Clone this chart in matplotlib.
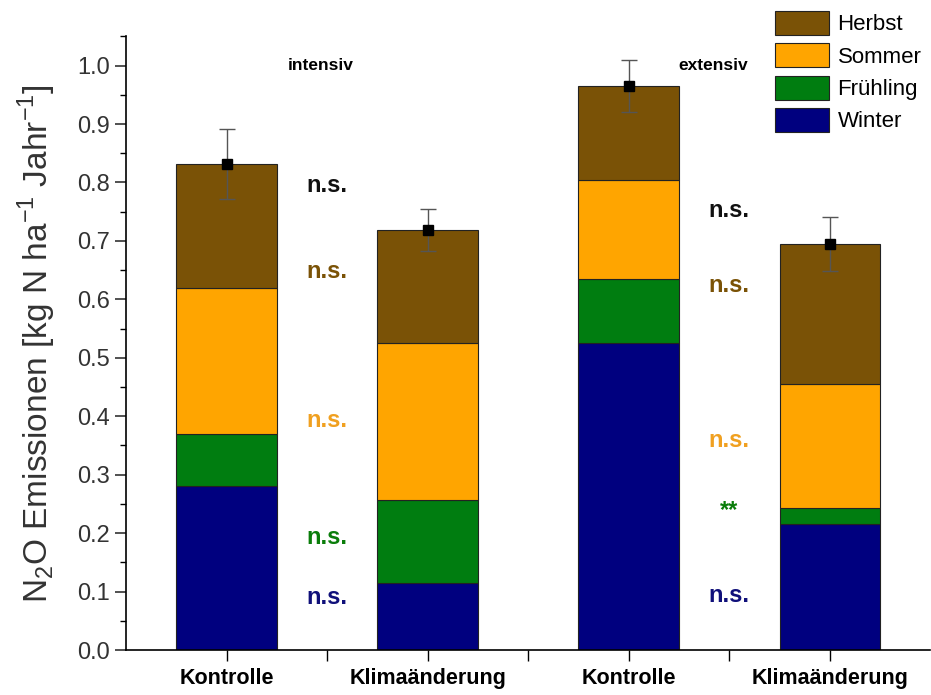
import matplotlib
matplotlib.use("Agg")
import matplotlib.pyplot as plt
import numpy as np
from matplotlib.ticker import MultipleLocator, FixedLocator

plt.rcParams['font.family'] = ['Liberation Sans', 'DejaVu Sans']

# Saisonale N2O-Emissionen je Variante
varianten = ['Kontrolle', 'Klimaänderung', 'Kontrolle', 'Klimaänderung']
jahreszeiten = ['Winter', 'Frühling', 'Sommer', 'Herbst']
winter = [0.28, 0.115, 0.525, 0.215]
fruehling = [0.09, 0.142, 0.11, 0.028]
sommer = [0.25, 0.268, 0.17, 0.212]
herbst = [0.212, 0.193, 0.16, 0.24]
fehler_oben = [0.06, 0.037, 0.045, 0.046]
fehler_unten = [0.06, 0.035, 0.045, 0.047]
farben = ['#00007f', '#007d10', '#ffa500', '#7a5206']

# Signifikanzen (Text, Farbe, y-Position) zwischen den Balkenpaaren
sig_intensiv = [('n.s.', '#111111', 0.795), ('n.s.', '#7a5206', 0.648),
                ('n.s.', '#f0a020', 0.393), ('n.s.', '#0a7d0a', 0.193),
                ('n.s.', '#10107a', 0.090)]
sig_extensiv = [('n.s.', '#111111', 0.752), ('n.s.', '#7a5206', 0.624),
                ('n.s.', '#f0a020', 0.359), ('**', '#0a7d0a', 0.239),
                ('n.s.', '#10107a', 0.094)]

fig = plt.figure(figsize=(9.31, 6.95), dpi=100)
ax = fig.add_axes([0.1353, 0.0647, 0.864, 0.883])

x = np.arange(1, len(varianten) + 1)
unten = np.zeros(len(x))
for werte, name, farbe in zip([winter, fruehling, sommer, herbst], jahreszeiten, farben):
    ax.bar(x, werte, width=0.5, bottom=unten, color=farbe, edgecolor='#222222',
           linewidth=0.8, label=name)
    unten = unten + np.array(werte)

ax.errorbar(x, unten, yerr=[fehler_unten, fehler_oben], fmt='s', color='black',
            ecolor='#555555', elinewidth=1.0, capsize=6, capthick=1.0, markersize=7.5)

for text, farbe, y in sig_intensiv:
    ax.text(1.5, y, text, color=farbe, fontsize=17, fontweight='bold', ha='center', va='center')
for text, farbe, y in sig_extensiv:
    ax.text(3.5, y, text, color=farbe, fontsize=17, fontweight='bold', ha='center', va='center')

ax.text(1.47, 1.0, 'intensiv', fontsize=12.5, fontweight='bold', ha='center', va='center')
ax.text(3.42, 1.0, 'extensiv', fontsize=12.5, fontweight='bold', ha='center', va='center')

ax.set_xlim(0.5, 4.5)
ax.set_ylim(0, 1.05)
ax.set_xticks(x)
ax.set_xticklabels(varianten, fontsize=15.5, fontweight='bold')
ax.xaxis.set_minor_locator(FixedLocator([1.5, 2.5, 3.5]))
ax.yaxis.set_major_locator(MultipleLocator(0.1))
ax.yaxis.set_minor_locator(MultipleLocator(0.05))
ax.yaxis.set_major_formatter(matplotlib.ticker.FormatStrFormatter('%.1f'))
ax.tick_params(axis='y', which='major', length=8, width=1.2, labelsize=17, colors='#333333')
ax.tick_params(axis='y', which='minor', length=4, width=1.0)
ax.tick_params(axis='x', which='both', length=8, width=1.0, pad=5)
for s in ['top', 'right']:
    ax.spines[s].set_visible(False)
ax.spines['left'].set_linewidth(1.2)
ax.spines['bottom'].set_linewidth(1.2)

ax.set_ylabel('N$_\\mathregular{2}$O Emissionen [kg N ha$^\\mathregular{-1}$ Jahr$^\\mathregular{-1}$]',
              fontsize=24, color='#333333', labelpad=14)

handles, labels = ax.get_legend_handles_labels()
ax.legend(handles[::-1], labels[::-1], loc='upper right', bbox_to_anchor=(1.0, 1.056),
          frameon=False, fontsize=16, handlelength=2.4, handleheight=1.3,
          labelspacing=0.35, handletextpad=0.4, borderaxespad=0.0)

fig.savefig('out.png', dpi=100)
